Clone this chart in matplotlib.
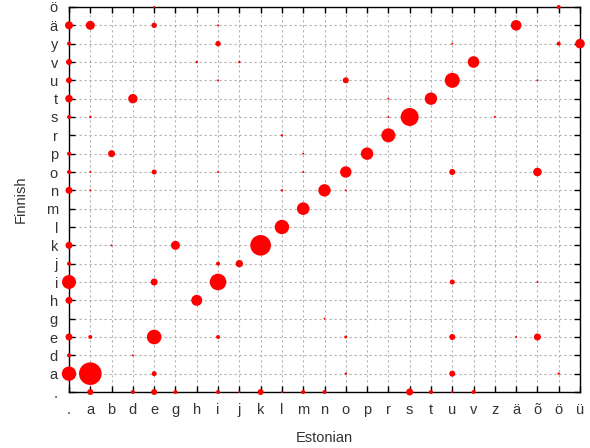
import matplotlib
matplotlib.use("Agg")
import matplotlib.pyplot as plt

plt.rcParams['font.family'] = ['Liberation Sans', 'DejaVu Sans']

# letters on the axes
estonian = ['.', 'a', 'b', 'd', 'e', 'g', 'h', 'i', 'j', 'k', 'l', 'm', 'n',
            'o', 'p', 'r', 's', 't', 'u', 'v', 'z', 'ä', 'õ', 'ö', 'ü']
finnish = ['.', 'a', 'd', 'e', 'g', 'h', 'i', 'j', 'k', 'l', 'm', 'n',
           'o', 'p', 'r', 's', 't', 'u', 'v', 'y', 'ä', 'ö']

# letter correspondences (estonian, finnish, weight), read row by row from the top
est = ['e', 'ö',
       '.', 'a', 'e', 'i', 'ä',
       '.', 'i', 'u', 'ö', 'ü',
       '.', 'h', 'j', 'v',
       '.', 'i', 'o', 'u', 'õ',
       '.', 'd', 'r', 't',
       '.', 'a', 'r', 's', 'z',
       'l', 'r',
       '.', 'b', 'm', 'p',
       '.', 'a', 'e', 'i', 'm', 'o', 'u', 'õ',
       '.', 'a', 'l', 'n', 'o',
       'm',
       'l',
       '.', 'b', 'g', 'k',
       '.', 'i', 'j',
       '.', 'e', 'i', 'u', 'õ',
       '.', 'h',
       'n',
       '.', 'a', 'e', 'i', 'o', 'u', 'ä', 'õ',
       '.', 'd',
       '.', 'a', 'e', 'o', 'u', 'ö',
       'a', 'd', 'e', 'g', 'i', 'j', 'k', 'l', 'm', 'n', 's', 't', 'u', 'v']
fin = ['ö'] * 2 + ['ä'] * 5 + ['y'] * 5 + ['v'] * 4 + ['u'] * 5 + ['t'] * 4 + \
      ['s'] * 5 + ['r'] * 2 + ['p'] * 4 + ['o'] * 8 + ['n'] * 5 + ['m'] + ['l'] + \
      ['k'] * 4 + ['j'] * 3 + ['i'] * 5 + ['h'] * 2 + ['g'] + ['e'] * 8 + \
      ['d'] * 2 + ['a'] * 6 + ['.'] * 14
weight = [1, 2,
          4, 4.5, 2.7, 1, 5.3,
          2, 2.7, 1, 2, 4.8,
          3, 1.2, 1.2, 5.8,
          3, 1, 3, 7.5, 1,
          3.8, 4.7, 1, 6.2,
          2, 1.2, 1, 9, 1,
          1.2, 7,
          2, 3.5, 1, 6.2,
          2, 1, 2.5, 1, 1, 5.7, 3, 4.3,
          3.5, 1, 1.2, 6.2, 1,
          6.3,
          7.2,
          3.5, 1, 4.5, 10.3,
          2, 2, 3.7,
          7, 3.5, 8.3, 2.5, 1,
          3.5, 5.5,
          1,
          3.5, 2, 7.3, 2, 1.5, 3, 1, 3.5,
          2, 1,
          7.2, 11.3, 2.5, 1.2, 3, 1.2,
          3, 2, 3, 2, 2, 1, 3, 1, 2, 2, 3.5, 2, 1, 2]

xs = [estonian.index(c) for c in est]
ys = [finnish.index(c) for c in fin]
sizes = [(2 * w * 0.72) ** 2 for w in weight]

fig = plt.figure(figsize=(5.9, 4.48), dpi=100)
ax = fig.add_axes([69 / 590, 56 / 448, 511 / 590, 385 / 448])

ax.scatter(xs, ys, s=sizes, color='#ff0000', edgecolors='none',
           clip_on=False, zorder=3)

ax.set_xlim(0, len(estonian) - 1)
ax.set_ylim(0, len(finnish) - 1)
ax.set_xticks(range(len(estonian)), estonian)
ax.set_yticks(range(len(finnish)), finnish)

ax.grid(True, color='#b0b0b0', linestyle=(0, (2, 2.5)), linewidth=0.8)
ax.set_axisbelow(True)
ax.tick_params(direction='in', length=4, width=1, top=True, right=True,
               labelsize=10.5, labelcolor='#333333', pad=8)
for sp in ax.spines.values():
    sp.set_linewidth(1)

ax.set_xlabel('Estonian', fontsize=10.5, color='#333333', labelpad=10)
ax.set_ylabel('Finnish', fontsize=10.5, color='#333333', labelpad=13)

fig.savefig('out.png', dpi=100)
